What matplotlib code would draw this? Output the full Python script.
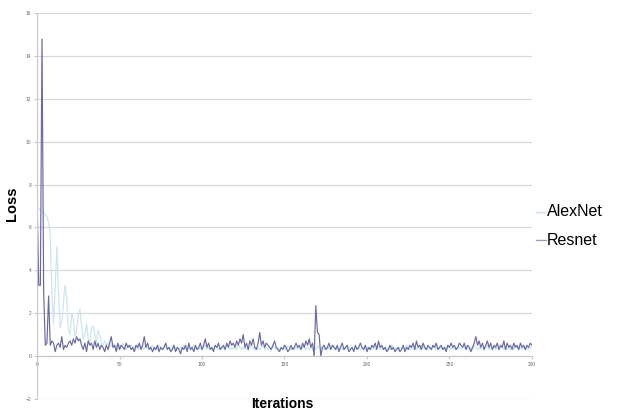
import matplotlib
matplotlib.use("Agg")
from matplotlib import pyplot as plt
from matplotlib.lines import Line2D

plt.rcParams['font.family'] = ['Liberation Sans', 'DejaVu Sans']

# loss per iteration
resnet = [
    7.4, 3.3, 3.3, 14.8, 3.0, 0.5, 0.6, 2.8, 0.5, 0.7, 0.6, 0.2, 0.5, 0.6, 0.4, 0.9, 0.3, 0.5, 0.4, 0.6,
    0.7, 0.5, 0.8, 0.6, 0.9, 0.7, 0.8, 0.5, 0.3, 0.6, 0.2, 0.7, 0.5, 0.6, 0.3, 0.7, 0.4, 0.6, 0.3, 0.5,
    0.4, 0.2, 0.5, 0.3, 0.6, 0.9, 0.4, 0.5, 0.2, 0.6, 0.3, 0.5, 0.4, 0.3, 0.6, 0.4, 0.5, 0.3, 0.4, 0.2,
    0.5, 0.4, 0.6, 0.3, 0.5, 0.9, 0.4, 0.6, 0.3, 0.4, 0.2, 0.4, 0.3, 0.5, 0.2, 0.4, 0.3, 0.4, 0.6, 0.3,
    0.4, 0.2, 0.3, 0.5, 0.2, 0.4, 0.3, 0.1, 0.4, 0.3, 0.5, 0.2, 0.6, 0.3, 0.4, 0.2, 0.5, 0.3, 0.4, 0.6,
    0.3, 0.5, 0.8, 0.4, 0.6, 0.3, 0.4, 0.2, 0.5, 0.4, 0.6, 0.3, 0.4, 0.5, 0.3, 0.6, 0.4, 0.7, 0.5, 0.6,
    0.4, 0.7, 0.5, 0.8, 0.6, 1.0, 0.4, 0.6, 0.3, 0.7, 0.5, 0.8, 0.4, 0.3, 0.6, 1.1, 0.5, 0.7, 0.4, 0.6,
    0.5, 0.4, 0.3, 0.5, 0.7, 0.4, 0.3, 0.2, 0.4, 0.3, 0.5, 0.4, 0.2, 0.3, 0.5, 0.3, 0.4, 0.6, 0.4, 0.5,
    0.3, 0.6, 0.4, 0.7, 0.5, 0.8, 0.4, 0.6, 0.0, 2.35, 1.1, 1.0, 0.0, 0.4, 0.5, 0.3, 0.4, 0.6, 0.3, 0.5,
    0.4, 0.3, 0.5, 0.2, 0.4, 0.6, 0.3, 0.4, 0.5, 0.2, 0.3, 0.4, 0.2, 0.5, 0.3, 0.4, 0.6, 0.4, 0.3, 0.5,
    0.2, 0.4, 0.3, 0.5, 0.4, 0.6, 0.3, 0.7, 0.4, 0.5, 0.3, 0.4, 0.2, 0.3, 0.5, 0.3, 0.4, 0.2, 0.3, 0.4,
    0.2, 0.3, 0.5, 0.2, 0.4, 0.3, 0.5, 0.4, 0.6, 0.3, 0.7, 0.4, 0.5, 0.3, 0.6, 0.4, 0.3, 0.5, 0.4, 0.3,
    0.5, 0.4, 0.6, 0.3, 0.4, 0.5, 0.3, 0.4, 0.2, 0.5, 0.4, 0.6, 0.4, 0.5, 0.3, 0.4, 0.6, 0.5, 0.4, 0.6,
    0.3, 0.5, 0.4, 0.2, 0.4, 0.6, 0.9, 0.5, 0.7, 0.4, 0.6, 0.3, 0.5, 0.7, 0.4, 0.6, 0.3, 0.5, 0.4, 0.6,
    0.3, 0.5, 0.4, 0.7, 0.3, 0.6, 0.4, 0.5, 0.3, 0.6, 0.4, 0.5, 0.3, 0.6, 0.4, 0.5, 0.3, 0.5, 0.4, 0.6,
    0.5,
]

alexnet = [
    6.9, 6.9, 6.8, 6.8, 6.7, 6.6, 6.5, 6.2, 5.6, 3.0, 1.5, 3.2, 5.1, 3.0, 1.3, 1.6, 2.5, 3.3, 2.6, 1.2,
    1.0, 2.0, 1.7, 0.9, 1.2, 1.9, 2.2, 1.4, 0.8, 1.0, 1.5, 0.8, 0.6, 1.3, 1.4, 1.0, 0.6, 1.2, 1.0, 0.6,
    0.5, 0.7, 0.5, 0.6, 0.4, 0.5, 0.6, 0.4, 0.5, 0.3, 0.5, 0.4, 0.6, 0.4, 0.3, 0.5, 0.4, 0.5, 0.3, 0.4,
    0.5, 0.3, 0.4, 0.5, 0.4, 0.3, 0.5, 0.4, 0.3, 0.4, 0.5, 0.3, 0.4, 0.3, 0.5, 0.4, 0.3, 0.4, 0.5, 0.3,
    0.4, 0.3, 0.4, 0.5, 0.3, 0.4, 0.3, 0.4, 0.3, 0.5, 0.4, 0.3, 0.4, 0.3, 0.4, 0.5, 0.3, 0.4, 0.3, 0.4,
    0.3, 0.4, 0.5, 0.3, 0.4, 0.3, 0.4, 0.3, 0.5, 0.4, 0.3, 0.4, 0.3, 0.4, 0.3, 0.5, 0.4, 0.3, 0.4, 0.3,
    0.4, 0.3, 0.5, 0.4, 0.3, 0.4, 0.3, 0.4, 0.3, 0.4, 0.5, 0.3, 0.4, 0.3, 0.4, 0.3, 0.4, 0.5, 0.3, 0.4,
    0.3, 0.4, 0.3, 0.5, 0.4, 0.3, 0.4, 0.3, 0.4, 0.3, 0.4, 0.3, 0.5, 0.4, 0.3, 0.4, 0.3, 0.4, 0.3, 0.4,
    0.3, 0.4, 0.5, 0.3, 0.4, 0.3, 0.4, 0.3, 0.4, 0.3, 0.5, 0.4, 0.3, 0.4, 0.3, 0.4, 0.3, 0.4, 0.3, 0.4,
    0.5, 0.3, 0.4, 0.3, 0.4, 0.3, 0.4, 0.3, 0.5, 0.4, 0.3, 0.4, 0.3, 0.4, 0.3, 0.4, 0.3, 0.4, 0.3, 0.5,
    0.4, 0.3, 0.4, 0.3, 0.4, 0.3, 0.4, 0.5, 0.3, 0.4, 0.3, 0.4, 0.3, 0.4, 0.3, 0.5, 0.4, 0.3, 0.4, 0.3,
    0.4, 0.3, 0.4, 0.3, 0.5, 0.4, 0.3, 0.4, 0.3, 0.4, 0.3, 0.4, 0.3, 0.5, 0.4, 0.3, 0.4, 0.3, 0.4, 0.3,
    0.4, 0.5, 0.3, 0.4, 0.3, 0.4, 0.3, 0.4, 0.3, 0.5, 0.4, 0.3, 0.4, 0.3, 0.4, 0.3, 0.4, 0.3, 0.4, 0.5,
    0.3, 0.4, 0.3, 0.4, 0.3, 0.5, 0.4, 0.3, 0.4, 0.3, 0.4, 0.3, 0.4, 0.5, 0.3, 0.4, 0.3, 0.4, 0.3, 0.4,
    0.3, 0.4, 0.5, 0.3, 0.4, 0.3, 0.4, 0.3, 0.4, 0.3, 0.5, 0.4, 0.3, 0.4, 0.3, 0.4, 0.3, 0.4, 0.3, 0.4,
    0.4,
]

iters = list(range(len(resnet)))
y_ticks = [-2, 0, 2, 4, 6, 8, 10, 12, 14, 16]
x_ticks = [0, 50, 100, 150, 200, 250, 300]

alex_col = "#cde6ec"
res_col = "#6a6aa2"

fig = plt.figure(figsize=(6.28, 4.12), dpi=100)
ax = fig.add_axes([0.059, 0.032, 0.788, 0.936])

ax.plot(iters, alexnet, color=alex_col, lw=0.9)
ax.plot(iters, resnet, color=res_col, lw=0.85)

ax.set_xlim(0, 300)
ax.set_ylim(-2, 16)
ax.set_yticks(y_ticks)
ax.set_xticks(x_ticks)
ax.yaxis.grid(True, color="#d8d8dc", lw=0.9)
ax.set_axisbelow(True)

for s in ["top", "right"]:
    ax.spines[s].set_visible(False)
ax.spines["bottom"].set_position(("data", 0))
ax.spines["bottom"].set_color("#c8c8cc")
ax.spines["left"].set_color("#c8c8cc")
ax.tick_params(axis="both", labelsize=3.5, labelcolor="#666666", length=2,
               color="#c8c8cc", pad=2)

fig.text(0.019, 0.505, "Loss", rotation=90, fontsize=10.5, fontweight="bold",
         ha="center", va="center")
fig.text(0.449, 0.019, "Iterations", fontsize=10, fontweight="bold",
         ha="center", va="center")

# hand-placed legend beside the plot
fig.add_artist(Line2D([0.853, 0.869], [0.486, 0.486], color="#cfe3ea", lw=1.0))
fig.add_artist(Line2D([0.853, 0.869], [0.417, 0.417], color="#9aa0b8", lw=1.0))
fig.text(0.871, 0.486, "AlexNet", fontsize=11.5, ha="left", va="center")
fig.text(0.871, 0.417, "Resnet", fontsize=11.5, ha="left", va="center")

fig.savefig("out.png", dpi=100)
